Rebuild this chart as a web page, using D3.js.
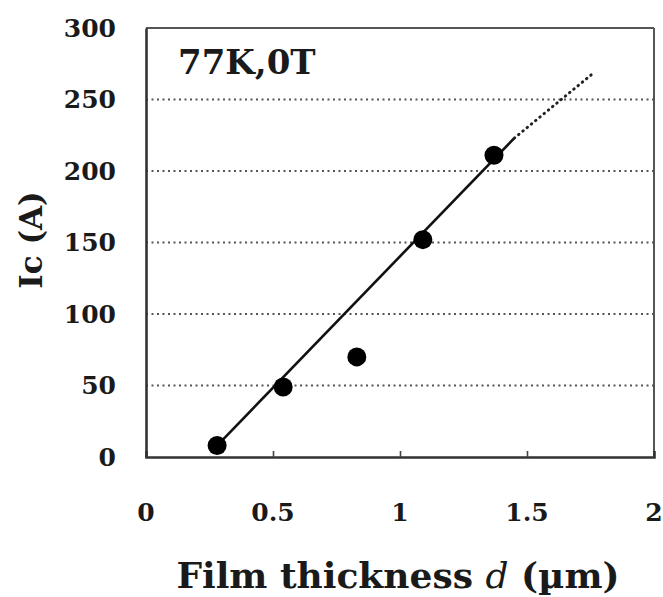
<!DOCTYPE html>
<html>
<head>
<meta charset="utf-8">
<script src="https://cdn.jsdelivr.net/npm/d3@7/dist/d3.min.js"></script>
<style>
  html, body { margin: 0; padding: 0; background: #fff; }
  svg { display: block; }
  text { font-family: "DejaVu Serif", serif; font-weight: bold; fill: #1a1a1a; }
</style>
</head>
<body>
<svg id="chart" width="663" height="597"></svg>
<script>
// ---- data ----
const thickness = [0.28, 0.54, 0.83, 1.09, 1.37];
const ic = [8, 49, 70, 152, 211];
const fitSolidX = [0.28, 1.45];
const fitSolidY = [8, 223];
const fitDottedX = [1.45, 1.765];
const fitDottedY = [223, 269];
const xTicks = [0, 0.5, 1, 1.5, 2];
const xTickLabels = ["0", "0.5", "1", "1.5", "2"];
const yTicks = [0, 50, 100, 150, 200, 250, 300];
const gridValues = [50, 100, 150, 200, 250];
const annotation = "77K,0T";
const xTitle = "Film thickness ";
const xTitleVar = "d";
const xTitleUnit = " (\u00B5m)";
const yTitle = "Ic (A)";

// ---- layout ----
const mLeft = 146, mRight = 654, mTop = 28, mBottom = 457;
const svg = d3.select("#chart");
const x = d3.scaleLinear().domain([0, 2]).range([mLeft, mRight]);
const y = d3.scaleLinear().domain([0, 300]).range([mBottom, mTop]);

// gridlines
svg.append("g").selectAll("line").data(gridValues).join("line")
  .attr("x1", mLeft).attr("x2", mRight)
  .attr("y1", d => y(d)).attr("y2", d => y(d))
  .attr("stroke", "#555").attr("stroke-width", 2)
  .attr("stroke-dasharray", "2,3.5");

// frame: top & right (thin gray)
svg.append("line").attr("x1", mLeft).attr("x2", mRight).attr("y1", mTop).attr("y2", mTop)
  .attr("stroke", "#555").attr("stroke-width", 2);
svg.append("line").attr("x1", mRight).attr("x2", mRight).attr("y1", mTop).attr("y2", mBottom)
  .attr("stroke", "#555").attr("stroke-width", 2);

// bottom axis with inward ticks
const xAxis = d3.axisBottom(x).tickValues(xTicks).tickSize(-6).tickFormat("");
const gx = svg.append("g").attr("transform", `translate(0,${mBottom})`).call(xAxis);
gx.select(".domain").attr("stroke", "#333").attr("stroke-width", 2.6);
gx.selectAll(".tick line").attr("stroke", "#444").attr("stroke-width", 1.6);
gx.selectAll(".tick").filter(d => d === 0 || d === 2).remove();

// left axis
const yAxis = d3.axisLeft(y).tickValues(yTicks).tickSize(0).tickFormat("");
const gy = svg.append("g").attr("transform", `translate(${mLeft},0)`).call(yAxis);
gy.select(".domain").attr("stroke", "#333").attr("stroke-width", 2.6);

// tick labels
svg.append("g").selectAll("text").data(yTicks).join("text")
  .attr("x", 116).attr("y", d => y(d))
  .attr("text-anchor", "end").attr("dominant-baseline", "central")
  .style("font-size", "25px")
  .text(d => d);
svg.append("g").selectAll("text").data(xTicks).join("text")
  .attr("x", d => x(d)).attr("y", 521)
  .attr("text-anchor", "middle")
  .style("font-size", "25px")
  .text((d, i) => xTickLabels[i]);

// fit line
const line = d3.line().x(d => x(d[0])).y(d => y(d[1]));
svg.append("path").datum(d3.zip(fitSolidX, fitSolidY))
  .attr("d", line).attr("fill", "none")
  .attr("stroke", "#111").attr("stroke-width", 2.6);
svg.append("path").datum(d3.zip(fitDottedX, fitDottedY))
  .attr("d", line).attr("fill", "none")
  .attr("stroke", "#222").attr("stroke-width", 3)
  .attr("stroke-linecap", "round")
  .attr("stroke-dasharray", "0.5,5");

// points
svg.append("g").selectAll("circle").data(d3.zip(thickness, ic)).join("circle")
  .attr("cx", d => x(d[0])).attr("cy", d => y(d[1]))
  .attr("r", 9.5).attr("fill", "#000");

// annotation
svg.append("text").attr("x", 178).attr("y", 74)
  .style("font-size", "34px").text(annotation);

// axis titles
const xt = svg.append("text").attr("x", 398).attr("y", 588)
  .attr("text-anchor", "middle").style("font-size", "36px");
xt.append("tspan").text(xTitle);
xt.append("tspan").style("font-style", "italic").style("font-weight", "normal").text(xTitleVar);
xt.append("tspan").text(xTitleUnit);

svg.append("text")
  .attr("transform", "translate(42,240) rotate(-90)")
  .attr("text-anchor", "middle")
  .style("font-size", "31px")
  .text(yTitle);
</script>
</body>
</html>
